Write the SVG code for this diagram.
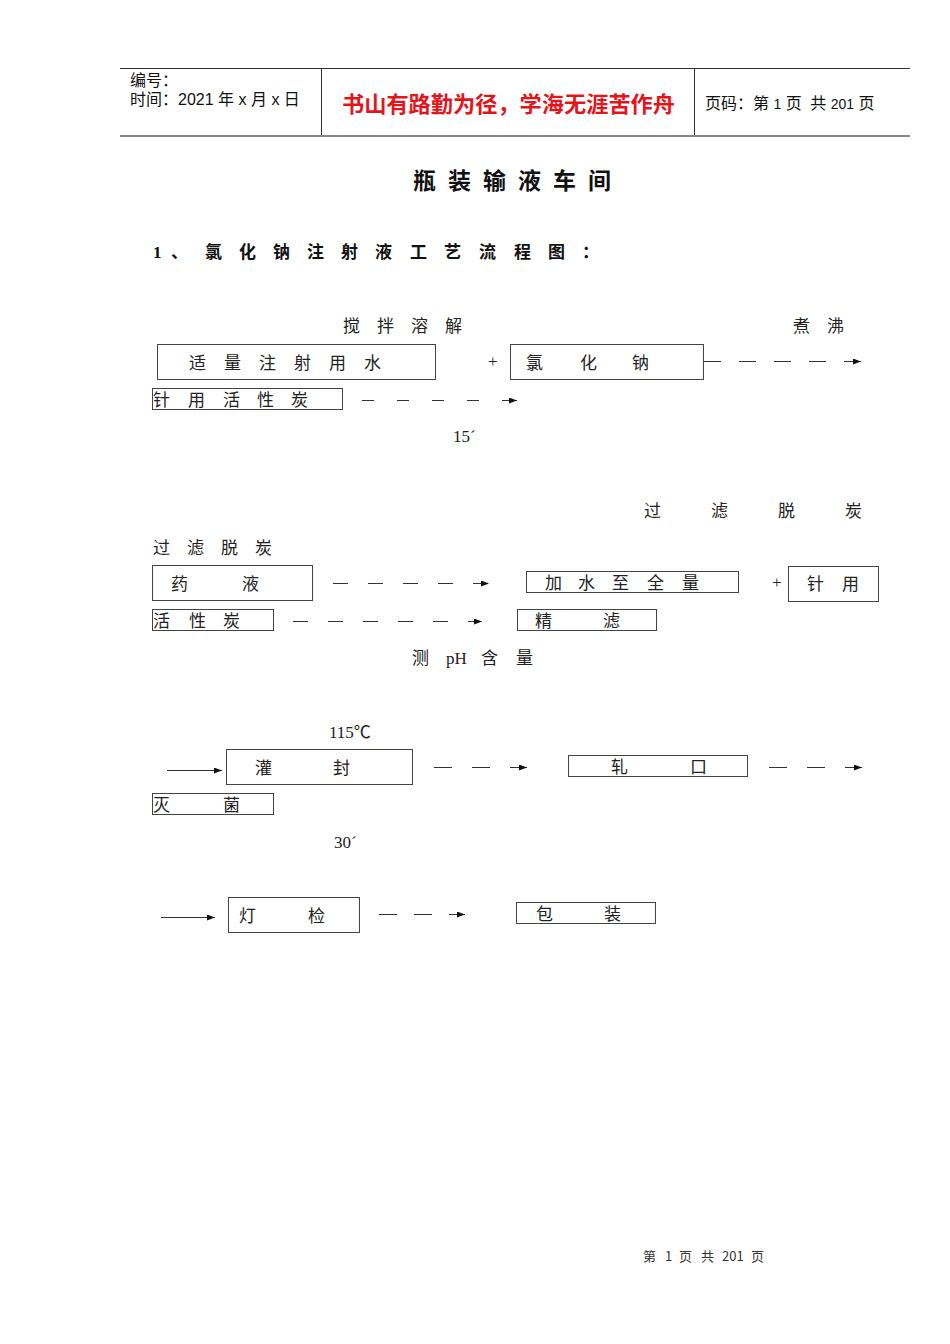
<svg xmlns="http://www.w3.org/2000/svg" width="950" height="1344" viewBox="0 0 950 1344">
<style>
.cj{font-family:"Noto Sans CJK SC","Liberation Serif",serif;font-size:17px;fill:#222}
.sf{font-family:"Liberation Serif","Noto Sans CJK SC",serif;font-size:17px;fill:#222}
.hd{font-family:"Liberation Sans","Noto Sans CJK SC",sans-serif;font-size:16px;fill:#111}
.ft{font-family:"Noto Sans CJK SC","Liberation Sans",sans-serif;font-size:13px;fill:#333}
.bx{fill:none;stroke:#444;stroke-width:1}
.cn{fill:none;stroke:#333;stroke-width:1.2}
</style>
<defs>
<marker id="ah" markerWidth="8" markerHeight="6" refX="8" refY="3" orient="auto" markerUnits="userSpaceOnUse">
<path d="M0,0 L8,3 L0,6 z" fill="#111"/>
</marker>
</defs>
<rect width="950" height="1344" fill="#fff"/>

<g id="header">
<line x1="120" y1="68.5" x2="910" y2="68.5" stroke="#333" stroke-width="1"/>
<line x1="120" y1="136" x2="910" y2="136" stroke="#888" stroke-width="2"/>
<line x1="321.5" y1="68" x2="321.5" y2="135" stroke="#333" stroke-width="1"/>
<line x1="694.5" y1="68" x2="694.5" y2="135" stroke="#333" stroke-width="1"/>
<text class="hd" x="130" y="86">编号：</text>
<text class="hd" x="130" y="105">时间：2021 年 x 月 x 日</text>
<text x="342" y="112" font-family="Noto Sans CJK SC, sans-serif" font-size="22" font-weight="bold" fill="#e5141b" textLength="333" lengthAdjust="spacingAndGlyphs">书山有路勤为径，学海无涯苦作舟</text>
<text class="hd" x="705" y="109">页码：第 <tspan font-size="14">1</tspan> 页 <tspan dx="4">共</tspan> <tspan font-size="14">201</tspan> 页</text>
</g>

<g id="title">
<text x="413 448 483 518 553 588" y="189" font-family="Noto Sans CJK SC, sans-serif" font-size="23" font-weight="bold" fill="#111">瓶装输液车间</text>
<text x="153" y="258" font-family="Liberation Serif, serif" font-size="17" font-weight="bold" fill="#111">1</text>
<text x="171 205 239 273 307 341 375 410 444 479 514 548 582" y="258" font-family="Noto Sans CJK SC, sans-serif" font-size="17" font-weight="bold" fill="#111">、氯化钠注射液工艺流程图：</text>
</g>

<g id="labels">
<text class="cj" x="343 377 411 445" y="332">搅拌溶解</text>
<text class="cj" x="793 827" y="332">煮沸</text>
<text class="sf" x="453" y="442">15´</text>
<text class="sf" x="488" y="367" font-size="15">+</text>
<text class="cj" x="644 711 778 845" y="517">过滤脱炭</text>
<text class="cj" x="153 187 221 255" y="554">过滤脱炭</text>
<text class="sf" x="772" y="588" font-size="15">+</text>
<text class="cj" x="412" y="664">测</text>
<text class="sf" x="446" y="664">pH</text>
<text class="cj" x="481 516" y="664">含量</text>
<text class="sf" x="329" y="738">115℃</text>
<text class="sf" x="334" y="848">30´</text>
</g>

<g id="n-water"><rect class="bx" x="157.5" y="344.5" width="278" height="35"/><text class="cj" x="189 224 259 294 329 364" y="369">适量注射用水</text></g>
<g id="n-nacl"><rect class="bx" x="510.5" y="344.5" width="193" height="35"/><text class="cj" x="526 580 632" y="369">氯化钠</text></g>
<g id="n-carbon1"><rect class="bx" x="152.5" y="388.5" width="190" height="21"/><text class="cj" x="153 188 223 257 291" y="406">针用活性炭</text></g>
<g id="n-liquid"><rect class="bx" x="152.5" y="565.5" width="160" height="35"/><text class="cj" x="171 242" y="590">药液</text></g>
<g id="n-water2"><rect class="bx" x="526.5" y="571.5" width="212" height="21"/><text class="cj" x="545 578 612 647 682" y="589">加水至全量</text></g>
<g id="n-needle"><rect class="bx" x="788.5" y="566.5" width="90" height="35"/><text class="cj" x="807 842" y="590">针用</text></g>
<g id="n-carbon2"><rect class="bx" x="152.5" y="609.5" width="121" height="21"/><text class="cj" x="153 189 223" y="627">活性炭</text></g>
<g id="n-filter"><rect class="bx" x="517.5" y="609.5" width="139" height="21"/><text class="cj" x="535 603" y="627">精滤</text></g>
<g id="n-fill"><rect class="bx" x="226.5" y="749.5" width="186" height="35"/><text class="cj" x="255 333" y="774">灌封</text></g>
<g id="n-cap"><rect class="bx" x="568.5" y="755.5" width="179" height="21"/><text class="cj" x="611 690" y="773">轧口</text></g>
<g id="n-steril"><rect class="bx" x="152.5" y="793.5" width="121" height="21"/><text class="cj" x="153 223" y="811">灭菌</text></g>
<g id="n-inspect"><rect class="bx" x="228.5" y="897.5" width="131" height="35"/><text class="cj" x="239 308" y="922">灯检</text></g>
<g id="n-pack"><rect class="bx" x="516.5" y="902.5" width="139" height="21"/><text class="cj" x="536 604" y="920">包装</text></g>

<g id="connectors">
<line class="cn" x1="704" y1="361.5" x2="861" y2="361.5" stroke-dasharray="17 18" marker-end="url(#ah)"/>
<line class="cn" x1="362" y1="400.5" x2="517" y2="400.5" stroke-dasharray="12 23 12 23 12 23 12 23 15" marker-end="url(#ah)"/>
<line class="cn" x1="333" y1="583.5" x2="489" y2="583.5" stroke-dasharray="15 20" marker-end="url(#ah)"/>
<line class="cn" x1="293" y1="621.5" x2="482" y2="621.5" stroke-dasharray="15 20" marker-end="url(#ah)"/>
<line class="cn" x1="167" y1="770.5" x2="222" y2="770.5" marker-end="url(#ah)"/>
<line class="cn" x1="434" y1="767.5" x2="527" y2="767.5" stroke-dasharray="18 20" marker-end="url(#ah)"/>
<line class="cn" x1="769" y1="767.5" x2="862" y2="767.5" stroke-dasharray="18 20" marker-end="url(#ah)"/>
<line class="cn" x1="161" y1="917.5" x2="215" y2="917.5" marker-end="url(#ah)"/>
<line class="cn" x1="379" y1="914.5" x2="465" y2="914.5" stroke-dasharray="18 17" marker-end="url(#ah)"/>
</g>

<g id="footer">
<text class="ft" x="643" y="1261">第</text>
<text class="ft" x="665" y="1261">1</text>
<text class="ft" x="679" y="1261">页</text>
<text class="ft" x="701" y="1261">共</text>
<text class="ft" x="722" y="1261">201</text>
<text class="ft" x="751" y="1261">页</text>
</g>
</svg>
